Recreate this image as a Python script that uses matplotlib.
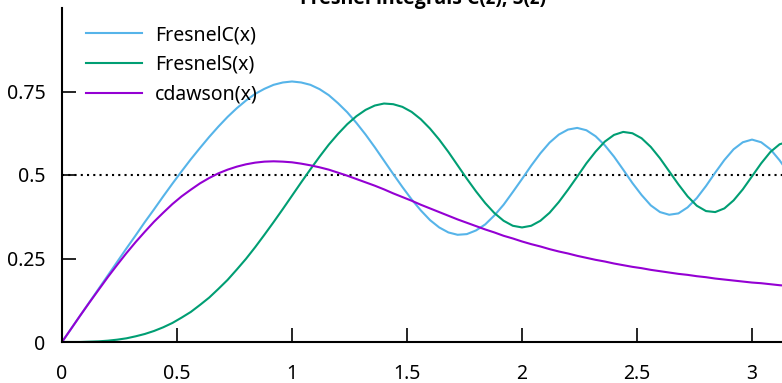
import numpy as np
import matplotlib
matplotlib.use('Agg')
import matplotlib.pyplot as plt

plt.rcParams['font.family'] = ['Noto Sans', 'DejaVu Sans']
plt.rcParams['font.size'] = 14

# sampled every 0.04 from 0 to 3.16
x = np.round(np.arange(80) * 0.04, 2)

fresnel_c = [0.000, 0.040, 0.080, 0.120, 0.160, 0.200, 0.240, 0.280, 0.319, 0.359,
             0.397, 0.436, 0.474, 0.511, 0.547, 0.581, 0.614, 0.645, 0.674, 0.700,
             0.723, 0.743, 0.758, 0.770, 0.777, 0.780, 0.777, 0.770, 0.757, 0.739,
             0.715, 0.688, 0.656, 0.621, 0.583, 0.543, 0.503, 0.464, 0.427, 0.394,
             0.365, 0.343, 0.328, 0.321, 0.323, 0.334, 0.352, 0.379, 0.411, 0.449,
             0.488, 0.528, 0.565, 0.597, 0.621, 0.636, 0.641, 0.634, 0.616, 0.589,
             0.555, 0.516, 0.476, 0.440, 0.409, 0.389, 0.381, 0.385, 0.403, 0.431,
             0.467, 0.507, 0.545, 0.577, 0.598, 0.606, 0.598, 0.577, 0.544, 0.505]

fresnel_s = [0.000, 0.000, 0.000, 0.001, 0.002, 0.004, 0.007, 0.011, 0.017, 0.024,
             0.033, 0.044, 0.057, 0.073, 0.090, 0.111, 0.133, 0.159, 0.186, 0.217,
             0.249, 0.284, 0.321, 0.359, 0.398, 0.438, 0.478, 0.517, 0.555, 0.591,
             0.623, 0.652, 0.676, 0.695, 0.708, 0.714, 0.712, 0.704, 0.689, 0.667,
             0.639, 0.606, 0.569, 0.529, 0.489, 0.451, 0.416, 0.386, 0.363, 0.348,
             0.343, 0.348, 0.363, 0.387, 0.419, 0.456, 0.495, 0.535, 0.570, 0.600,
             0.620, 0.629, 0.625, 0.610, 0.584, 0.550, 0.511, 0.472, 0.436, 0.408,
             0.392, 0.389, 0.400, 0.424, 0.457, 0.496, 0.535, 0.569, 0.592, 0.600]

dawson = [0.000, 0.040, 0.080, 0.119, 0.157, 0.195, 0.231, 0.266, 0.299, 0.330,
          0.360, 0.387, 0.413, 0.436, 0.456, 0.475, 0.491, 0.505, 0.516, 0.525,
          0.532, 0.537, 0.540, 0.541, 0.540, 0.538, 0.534, 0.529, 0.523, 0.516,
          0.507, 0.498, 0.488, 0.478, 0.468, 0.457, 0.445, 0.434, 0.423, 0.411,
          0.400, 0.389, 0.378, 0.367, 0.357, 0.347, 0.337, 0.328, 0.318, 0.310,
          0.301, 0.293, 0.286, 0.278, 0.271, 0.265, 0.258, 0.252, 0.246, 0.241,
          0.235, 0.230, 0.225, 0.221, 0.216, 0.212, 0.208, 0.204, 0.201, 0.197,
          0.194, 0.190, 0.187, 0.184, 0.181, 0.178, 0.176, 0.173, 0.170, 0.168]

xticks = [0, 0.5, 1, 1.5, 2, 2.5, 3]
xtick_labels = ['0', '0.5', '1', '1.5', '2', '2.5', '3']
yticks = [0, 0.25, 0.5, 0.75]
ytick_labels = ['0', '0.25', '0.5', '0.75']

W, H = 782, 383
fig = plt.figure(figsize=(W / 100, H / 100), dpi=100)
ax = fig.add_axes([62 / W, 1 - 342 / H, 1 - 62 / W, 334 / H])

ax.plot(x, fresnel_c, color='#56b4e9', lw=1.5, label='FresnelC(x)')
ax.plot(x, fresnel_s, color='#009e73', lw=1.5, label='FresnelS(x)')
ax.plot(x, dawson, color='#9400d3', lw=1.5, label='cdawson(x)')
ax.axhline(0.5, color='black', lw=1.5, linestyle=(0, (1, 2)), zorder=1)

ax.set_xlim(0, (W - 62) / 230)
ax.set_ylim(0, 1)
ax.set_xticks(xticks)
ax.set_xticklabels(xtick_labels)
ax.set_yticks(yticks)
ax.set_yticklabels(ytick_labels)
ax.tick_params(direction='in', length=10, width=1.2, color='black')
ax.tick_params(axis='x', pad=16)
ax.tick_params(axis='y', pad=12)
for s in ['top', 'right']:
    ax.spines[s].set_visible(False)
for s in ['left', 'bottom']:
    ax.spines[s].set_linewidth(1.5)

ax.legend(loc='upper left', bbox_to_anchor=(86 / W, 1 - 25 / H),
          bbox_transform=fig.transFigure, frameon=False, borderpad=0,
          borderaxespad=0, handlelength=2.9, handletextpad=0.65,
          labelspacing=0.5)

fig.text(423 / W, 1 - 4 / H, 'Fresnel integrals C(z), S(z)', ha='center',
         va='baseline', fontweight='bold', family=['Open Sans', 'DejaVu Sans'])

fig.savefig('out.png', dpi=100)
